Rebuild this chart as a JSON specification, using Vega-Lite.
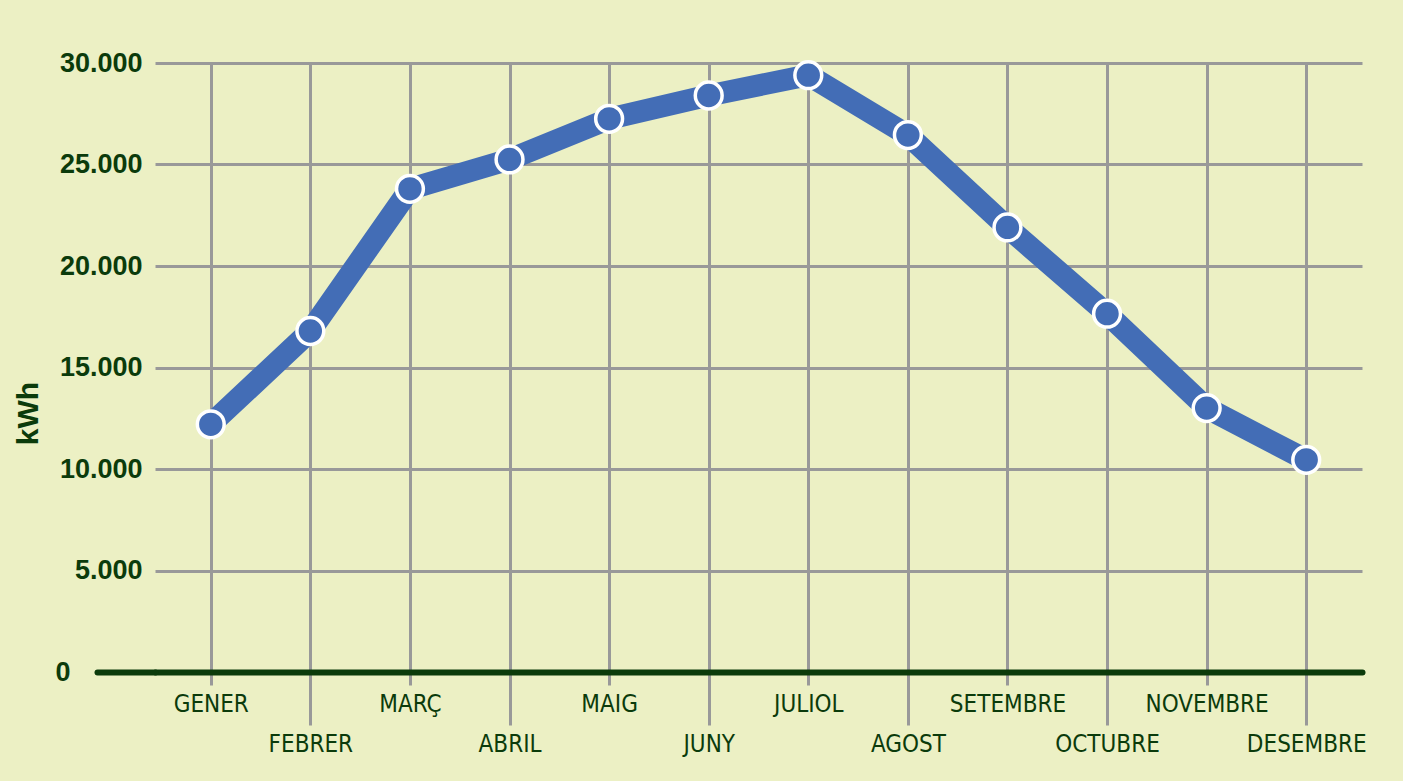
{
  "$schema": "https://vega.github.io/schema/vega-lite/v6.json",
  "autosize": {"type": "none"},
  "padding": {"left": 155, "top": 63, "right": 41, "bottom": 109},
  "width": 1207,
  "height": 609,
  "background": "#ECF0C4",
  "config": {"view": {"stroke": null}},
  "data": {
    "values": [
      {"mes": "GENER", "kwh": 12200},
      {"mes": "FEBRER", "kwh": 16800},
      {"mes": "MARÇ", "kwh": 23800},
      {"mes": "ABRIL", "kwh": 25250},
      {"mes": "MAIG", "kwh": 27250},
      {"mes": "JUNY", "kwh": 28400},
      {"mes": "JULIOL", "kwh": 29400},
      {"mes": "AGOST", "kwh": 26450},
      {"mes": "SETEMBRE", "kwh": 21900},
      {"mes": "OCTUBRE", "kwh": 17650},
      {"mes": "NOVEMBRE", "kwh": 13000},
      {"mes": "DESEMBRE", "kwh": 10450}
    ]
  },
  "encoding": {
    "x": {
      "field": "mes",
      "type": "ordinal",
      "sort": null,
      "scale": {"type": "point", "padding": 0.56},
      "axis": {
        "title": null,
        "grid": true,
        "gridColor": "#999999",
        "gridWidth": 3,
        "ticks": true,
        "tickColor": "#999999",
        "tickWidth": 3,
        "tickSize": {
          "condition": {
            "test": "indexof(['FEBRER','ABRIL','JUNY','AGOST','OCTUBRE','DESEMBRE'], datum.value) >= 0",
            "value": 53
          },
          "value": 13
        },
        "domainColor": "#0B3B0B",
        "domainWidth": 6,
        "domainCap": "round",
        "labelAngle": 0,
        "labelFont": "'DejaVu Sans Condensed', 'Liberation Sans', sans-serif",
        "labelFontSize": 24,
        "labelColor": "#0B3B0B",
        "labelPadding": 7
      }
    },
    "y": {
      "field": "kwh",
      "type": "quantitative",
      "scale": {"domain": [0, 30000], "nice": false},
      "axis": {
        "values": [0, 5000, 10000, 15000, 20000, 25000, 30000],
        "labelExpr": "replace(format(datum.value, ','), ',', '.')",
        "grid": true,
        "gridColor": {
          "condition": {"test": "datum.value === 0", "value": "transparent"},
          "value": "#999999"
        },
        "gridWidth": 3,
        "domain": false,
        "ticks": true,
        "tickSize": {
          "condition": {"test": "datum.value === 0", "value": 58},
          "value": 0
        },
        "tickColor": {
          "condition": {"test": "datum.value === 0", "value": "#0B3B0B"},
          "value": "transparent"
        },
        "tickWidth": 6,
        "tickCap": "round",
        "labelFont": "'Liberation Sans', sans-serif",
        "labelFontWeight": "bold",
        "labelFontSize": 27,
        "labelColor": "#0B3B0B",
        "labelPadding": {
          "condition": {"test": "datum.value === 0", "value": 27},
          "value": 13
        },
        "title": "kWh",
        "titleFont": "'Liberation Sans', sans-serif",
        "titleFontWeight": "bold",
        "titleFontSize": 30,
        "titleColor": "#0B3B0B",
        "titleAngle": 270,
        "titleAlign": "center",
        "titleBaseline": "middle",
        "titleX": -127,
        "titleY": 350
      }
    }
  },
  "layer": [
    {
      "mark": {
        "type": "line",
        "color": "#436DB6",
        "strokeWidth": 22,
        "strokeJoin": "round"
      }
    },
    {
      "mark": {
        "type": "point",
        "shape": "circle",
        "filled": true,
        "fill": "#436DB6",
        "stroke": "white",
        "strokeWidth": 3.5,
        "size": 720,
        "opacity": 1
      }
    }
  ]
}
